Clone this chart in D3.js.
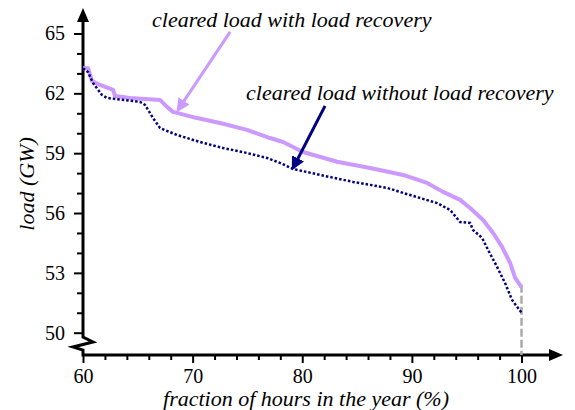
<!DOCTYPE html>
<html lang="en">
<head>
<meta charset="UTF-8">
<title>Cleared load duration</title>
<script src="https://d3js.org/d3.v7.min.js"></script>
<style>
    body { margin: 0; padding: 0; background: #fff; }
    svg { display: block; }
</style>
</head>
<body>
<div id="chart"></div>
<script>
    // tick values
    const xTicks = [60, 70, 80, 90, 100];
    const yTicks = [50, 53, 56, 59, 62, 65];

    // cleared load with load recovery (x = % of hours, y = GW)
    const pctWith  = [60.0, 60.46, 60.82, 61.55, 62.74, 62.92, 64.29, 67.03, 67.66, 68.21, 70.4, 72.5, 74.96, 77.06, 78.25, 80.07, 83.18, 86.19, 89.2, 91.39, 92.85, 94.4, 95.31, 96.5, 97.41, 98.23, 98.96, 99.42, 100.0];
    const loadWith = [63.26, 63.26, 62.62, 62.42, 62.17, 61.87, 61.77, 61.67, 61.32, 61.07, 60.76, 60.51, 60.17, 59.76, 59.56, 59.06, 58.57, 58.26, 57.91, 57.51, 57.06, 56.66, 56.25, 55.65, 55.0, 54.3, 53.5, 52.75, 52.29];

    // cleared load without load recovery
    const pctWithout  = [60.0, 60.46, 60.91, 61.73, 62.19, 65.2, 65.66, 66.39, 67.03, 68.58, 70.68, 72.77, 74.96, 76.79, 77.97, 79.16, 81.62, 84.64, 87.74, 89.84, 92.3, 93.49, 94.4, 95.31, 95.58, 96.41, 96.95, 97.77, 98.5, 99.14, 100.0];
    const loadWithout = [63.26, 63.07, 62.52, 61.92, 61.77, 61.57, 61.42, 60.76, 60.26, 59.91, 59.56, 59.26, 59.01, 58.76, 58.51, 58.21, 57.91, 57.56, 57.26, 56.9, 56.5, 56.15, 55.55, 55.5, 55.15, 54.75, 54.15, 53.3, 52.49, 51.64, 51.0];

    // annotations: text position and arrow from/to (data units)
    const noteText  = ["cleared load with load recovery", "cleared load without load recovery"];
    const noteColor = ["#cc99ff", "#000080"];
    const noteAt    = [[66.3, 65.33], [74.87, 61.67]];
    const arrowFrom = [[73.42, 65.08], [82.08, 61.37]];
    const arrowTo   = [[68.67, 61.17], [79.16, 58.26]];

    const W = 575, H = 410;
    const x = d3.scaleLinear().domain([60, 100]).range([83, 521.5]);
    const y = d3.scaleLinear().domain([50, 65]).range([332.7, 33.5]);
    const axisY = 355;
    const serif = '"Liberation Serif"';

    const svg = d3.select("#chart").append("svg")
        .attr("width", W)
        .attr("height", H);

    const defs = svg.append("defs");
    noteColor.forEach((c, i) => {
        defs.append("marker")
            .attr("id", "head" + i)
            .attr("viewBox", "0 0 10 10")
            .attr("markerWidth", 4.5)
            .attr("markerHeight", 4.5)
            .attr("refX", 8)
            .attr("refY", 5)
            .attr("orient", "auto")
            .append("path")
            .attr("d", "M0,0 L10,5 L0,10 Z")
            .attr("fill", c);
    });

    function styleTicks(g) {
        g.attr("font-family", null).attr("font-size", null);
        g.select(".domain").remove();
        g.selectAll("line").attr("stroke", "#000").attr("stroke-width", 2);
        g.selectAll("text")
            .style("font-family", serif)
            .style("font-size", "20px")
            .attr("fill", "#000");
    }

    // x minor + major ticks
    svg.append("g")
        .attr("transform", `translate(0,${axisY})`)
        .call(d3.axisBottom(x).tickValues(d3.range(62, 100, 2).filter(v => v % 10)).tickSize(5).tickFormat(""))
        .call(styleTicks);

    svg.append("g")
        .attr("transform", `translate(0,${axisY})`)
        .call(d3.axisBottom(x).tickValues(xTicks).tickSize(8).tickPadding(6))
        .call(styleTicks);

    // y minor + major ticks
    svg.append("g")
        .attr("transform", "translate(83,0)")
        .call(d3.axisLeft(y).tickValues(d3.range(50, 66).filter(v => (v - 50) % 3)).tickSize(6).tickFormat(""))
        .call(styleTicks);

    svg.append("g")
        .attr("transform", "translate(83,0)")
        .call(d3.axisLeft(y).tickValues(yTicks).tickSize(9).tickPadding(9))
        .call(styleTicks);

    // axis lines with break mark on the y axis
    svg.append("path")
        .attr("d", `M83,14 L83,337 L93,342 L73,347 L83,350 L83,${axisY} L556,${axisY}`)
        .attr("fill", "none")
        .attr("stroke", "#000")
        .attr("stroke-width", 3);
    svg.append("path").attr("d", "M83,8 L77,22 L89,22 Z").attr("fill", "#000");
    svg.append("path").attr("d", `M563,${axisY} L549,${axisY - 6} L549,${axisY + 6} Z`).attr("fill", "#000");

    // grey dashed marker at 100 %
    svg.append("line")
        .attr("x1", x(100)).attr("x2", x(100))
        .attr("y1", y(52.4)).attr("y2", axisY)
        .attr("stroke", "#aaaaaa")
        .attr("stroke-width", 2.5)
        .attr("stroke-dasharray", "8,3");

    const line = d3.line().x(d => x(d[0])).y(d => y(d[1]));

    svg.append("path")
        .datum(d3.zip(pctWith, loadWith))
        .attr("d", line)
        .attr("fill", "none")
        .attr("stroke", "#cc99ff")
        .attr("stroke-width", 4)
        .attr("stroke-linejoin", "round");

    svg.append("path")
        .datum(d3.zip(pctWithout, loadWithout))
        .attr("d", line)
        .attr("fill", "none")
        .attr("stroke", "#000080")
        .attr("stroke-width", 2.5)
        .attr("stroke-dasharray", "2.5,2");

    // annotations
    noteText.forEach((t, i) => {
        svg.append("text")
            .attr("x", x(noteAt[i][0]))
            .attr("y", y(noteAt[i][1]))
            .style("font-family", serif)
            .style("font-size", "22px")
            .style("font-style", "italic")
            .text(t);
        svg.append("line")
            .attr("x1", x(arrowFrom[i][0])).attr("y1", y(arrowFrom[i][1]))
            .attr("x2", x(arrowTo[i][0])).attr("y2", y(arrowTo[i][1]))
            .attr("stroke", noteColor[i])
            .attr("stroke-width", 3)
            .attr("marker-end", `url(#head${i})`);
    });

    // axis titles
    svg.append("text")
        .attr("x", 306)
        .attr("y", 406)
        .attr("text-anchor", "middle")
        .style("font-family", serif)
        .style("font-size", "22px")
        .style("font-style", "italic")
        .text("fraction of hours in the year (%)");

    svg.append("text")
        .attr("transform", "translate(34,184) rotate(-90)")
        .attr("text-anchor", "middle")
        .style("font-family", serif)
        .style("font-size", "22px")
        .style("font-style", "italic")
        .text("load (GW)");
</script>
</body>
</html>
